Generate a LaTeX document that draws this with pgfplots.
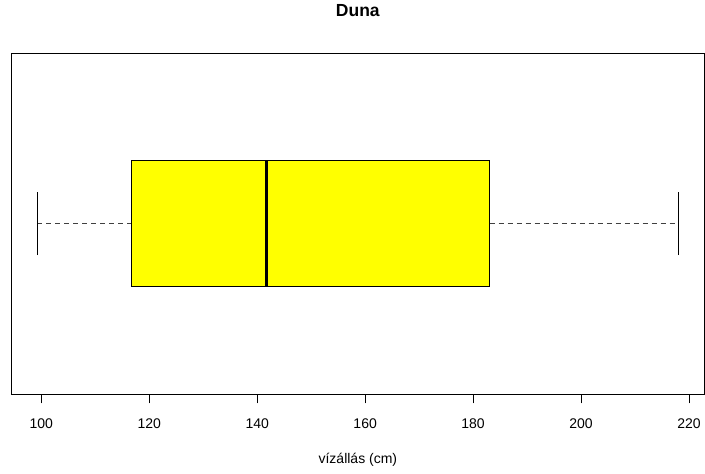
\documentclass[border=0pt]{standalone}
\usepackage{fontspec}
\setmainfont{Liberation Sans}
\usepackage{pgfplots}
\pgfplotsset{compat=1.18}
\definecolor{ryellow}{RGB}{255,255,0}
\begin{document}
\begin{tikzpicture}
\begin{axis}[
  scale only axis,
  width=692.3pt, height=341pt,
  xmin=94.51, xmax=222.79,
  ymin=0.46, ymax=1.54,
  ytick=\empty,
  xtick={100,120,...,220},
  xtick pos=bottom,
  tick align=outside,
  major tick length=9.5pt,
  xtick style={black, line width=0.7pt},
  axis line style={black, line width=0.9pt},
  /pgf/number format/assume math mode=true,
  xticklabel style={font=\fontsize{14}{16}\selectfont, anchor=center, yshift=-20.5pt},
  xlabel={vízállás (cm)},
  xlabel style={font=\fontsize{14}{16}\selectfont, at={(axis description cs:0.5,-0.1935)}, anchor=center},
  title={\textbf{Duna}},
  title style={font=\fontsize{17.5}{20}\selectfont, at={(axis description cs:0.5,1.1056)}, anchor=center},
  clip=false,
]
\path[use as bounding box] (axis description cs:-0.0169,-0.2317) rectangle (axis description cs:1.00144,1.1554);
% box (Q1 = 116.65, Q3 = 183.05)
\addplot[fill=ryellow, draw=black, line width=0.8pt] coordinates {(116.65,0.8) (183.05,0.8) (183.05,1.2) (116.65,1.2)} -- cycle;
% median
\addplot[black, line width=3.2pt] coordinates {(141.65,0.8) (141.65,1.2)};
% whiskers
\addplot[black!75, line width=0.8pt, dash pattern=on 5pt off 4pt] coordinates {(99.26,1) (116.65,1)};
\addplot[black!75, line width=0.8pt, dash pattern=on 5pt off 4pt] coordinates {(183.05,1) (218.04,1)};
% staples
\addplot[black, line width=0.8pt] coordinates {(99.26,0.9) (99.26,1.1)};
\addplot[black, line width=0.8pt] coordinates {(218.04,0.9) (218.04,1.1)};
\end{axis}
\end{tikzpicture}
\end{document}
